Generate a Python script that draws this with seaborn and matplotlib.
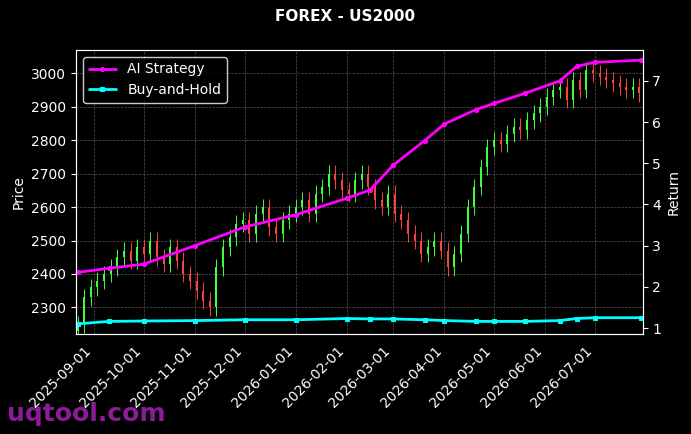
import matplotlib
matplotlib.use("Agg")
import matplotlib.pyplot as plt
import matplotlib.dates as mdates
import seaborn as sns
import pandas as pd
import numpy as np

closes = [2250, 2330, 2360, 2380, 2400, 2420, 2450, 2470, 2440, 2480, 2460,
          2500, 2450, 2430, 2480, 2440, 2400, 2380, 2350, 2320, 2300, 2420,
          2480, 2510, 2550, 2560, 2520, 2580, 2600, 2540, 2520, 2560, 2580,
          2600, 2620, 2580, 2640, 2660, 2700, 2680, 2650, 2640, 2680, 2700,
          2660, 2620, 2600, 2640, 2580, 2560, 2520, 2500, 2460, 2480, 2500,
          2470, 2420, 2460, 2520, 2600, 2660, 2720, 2780, 2800, 2790, 2820,
          2840, 2830, 2860, 2880, 2900, 2930, 2950, 2960, 2920, 2980, 2950,
          3010, 3000, 2990, 2980, 2970, 2960, 2950, 2960, 2940, 2930]
wick = 25

ret_dates = ["2025-08-22", "2025-09-10", "2025-10-01", "2025-11-01", "2025-12-01",
             "2026-01-01", "2026-02-01", "2026-02-15", "2026-03-01", "2026-03-20",
             "2026-04-01", "2026-04-20", "2026-05-01", "2026-05-20", "2026-06-10",
             "2026-06-20", "2026-07-01", "2026-07-29"]
strategy = [2.35, 2.45, 2.55, 3.0, 3.45, 3.75, 4.15, 4.35, 4.95, 5.55,
            5.95, 6.3, 6.45, 6.7, 7.0, 7.35, 7.45, 7.5]
buyhold = [1.1, 1.16, 1.17, 1.18, 1.2, 1.2, 1.23, 1.22, 1.22, 1.2,
           1.18, 1.16, 1.16, 1.16, 1.18, 1.23, 1.25, 1.25]

plt.style.use("dark_background")
sns.set_style("darkgrid", {"axes.facecolor": "black", "figure.facecolor": "black",
                           "grid.color": "#555555", "grid.linestyle": "--",
                           "axes.edgecolor": "white", "text.color": "white",
                           "axes.labelcolor": "white", "xtick.color": "white",
                           "ytick.color": "white"})
plt.rcParams['font.family'] = ['DejaVu Sans']

fig, ax = plt.subplots(figsize=(6.91, 4.34), dpi=100)
dates = pd.date_range("2025-08-22", periods=len(closes), freq="4D")
opens = [closes[0] - 20] + closes[:-1]
for d, o, c in zip(dates, opens, closes):
    col = "#3dff3d" if c >= o else "#ff4040"
    ax.vlines(d, min(o, c) - wick, max(o, c) + wick, color=col, lw=0.7)
    ax.bar(d, max(abs(c - o), 2), bottom=min(o, c), width=1.2, color=col,
           edgecolor="none", linewidth=0)
ax.set_ylim(2220, 3070)
ax.set_ylabel("Price")
ax.grid(True, color="#555555", linestyle="--", linewidth=0.5)

ax2 = ax.twinx()
rd = pd.to_datetime(ret_dates)
df = pd.DataFrame({"date": rd, "AI Strategy": strategy, "Buy-and-Hold": buyhold})
sns.lineplot(data=df, x="date", y="AI Strategy", ax=ax2, color="magenta", lw=2,
             marker="o", markersize=3, markeredgecolor="magenta", label="AI Strategy")
sns.lineplot(data=df, x="date", y="Buy-and-Hold", ax=ax2, color="cyan", lw=2,
             marker="s", markersize=3, markeredgecolor="cyan", label="Buy-and-Hold")
ax2.set_ylim(0.85, 7.75)
ax2.set_ylabel("Return")
ax2.grid(False)
leg = ax2.legend(loc="upper left", facecolor="black", edgecolor="white")
for t in leg.get_texts():
    t.set_color("white")

ax.set_xlim(pd.Timestamp("2025-08-21"), pd.Timestamp("2026-07-30"))
ax.xaxis.set_major_locator(mdates.MonthLocator())
ax.xaxis.set_major_formatter(mdates.DateFormatter("%Y-%m-%d"))
plt.setp(ax.get_xticklabels(), rotation=45, ha="right")
ax.set_xlabel("")
ax2.set_xlabel("")
fig.suptitle("FOREX - US2000", fontweight="bold", color="white", fontsize=11)
fig.subplots_adjust(left=0.11, right=0.93, top=0.885, bottom=0.23)
fig.text(0.01, 0.03, "uqtool.com", fontsize=18, fontweight="bold", color="#9b1fa8", alpha=0.9)
fig.savefig("out.png", dpi=100, facecolor="black")
